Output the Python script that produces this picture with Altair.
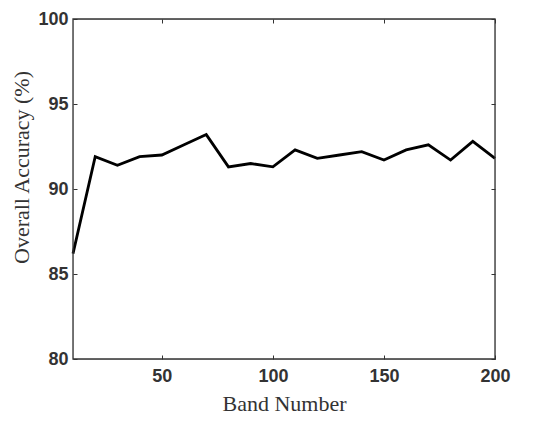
import altair as alt
import pandas as pd

bands = [10, 20, 30, 40, 50, 60, 70, 80, 90, 100, 110, 120, 130, 140, 150, 160, 170, 180, 190, 200]
accuracy = [86.2, 91.9, 91.4, 91.9, 92.0, 92.6, 93.2, 91.3, 91.5, 91.3, 92.3, 91.8, 92.0, 92.2, 91.7, 92.3, 92.6, 91.7, 92.8, 91.8]
x_ticks = [50, 100, 150, 200]
y_ticks = [80, 85, 90, 95, 100]

df = pd.DataFrame({"band": bands, "acc": accuracy})

AX = "#333333"
LABEL_FONT = "Liberation Sans"
TITLE_FONT = "Liberation Serif"
W, H = 422, 340

xs = alt.Scale(domain=[10, 200], nice=False, zero=False)
ys = alt.Scale(domain=[80, 100], nice=False, zero=False)

main = alt.Chart(df).mark_line(color="black", strokeWidth=2.8).encode(
    x=alt.X("band:Q", scale=xs, axis=alt.Axis(
        title="Band Number", values=x_ticks, orient="bottom", offset=-4,
        tickSize=4, tickColor=AX, tickWidth=1, domain=False, grid=False,
        labelFont=LABEL_FONT, labelFontWeight="bold", labelFontSize=18,
        labelColor=AX, labelPadding=8, labelFlush=False,
        titleFont=TITLE_FONT, titleFontWeight="normal", titleFontSize=22,
        titleColor=AX, titleBaseline="alphabetic", titleY=55)),
    y=alt.Y("acc:Q", scale=ys, axis=alt.Axis(
        title="Overall Accuracy (%)", values=y_ticks, orient="left", offset=-4,
        tickSize=4, tickColor=AX, tickWidth=1, domain=False, grid=False,
        labelFont=LABEL_FONT, labelFontWeight="bold", labelFontSize=18,
        labelColor=AX, labelPadding=5, labelFlush=False,
        titleFont=TITLE_FONT, titleFontWeight="normal", titleFontSize=22,
        titleColor=AX, titleBaseline="alphabetic", titleAngle=270,
        titleAlign="center", titleX=-49, titleY=148)),
)

mirror = alt.Chart(df).mark_line(opacity=0).encode(
    x=alt.X("band:Q", scale=xs, axis=alt.Axis(
        title=None, values=x_ticks, orient="top", offset=-4, tickSize=4,
        tickColor=AX, tickWidth=1, domain=False, grid=False, labels=False)),
    y=alt.Y("acc:Q", scale=ys, axis=alt.Axis(
        title=None, values=y_ticks, orient="right", offset=-4, tickSize=4,
        tickColor=AX, tickWidth=1, domain=False, grid=False, labels=False)),
)

frame = alt.Chart(pd.DataFrame({"k": [0]})).mark_rect(
    filled=False, stroke=AX, strokeWidth=1.3
).encode(x=alt.value(0), x2=alt.value(W), y=alt.value(0), y2=alt.value(H))

chart = alt.layer(main, mirror, frame).resolve_scale(x="independent", y="independent").properties(
    width=W, height=H,
    autosize=alt.AutoSizeParams(type="none"),
    padding={"left": 65, "top": 11, "right": 44, "bottom": 56},
).configure_view(stroke=None).configure(background="white")

chart.save("out.html", embed_options={"renderer": "svg", "actions": False})
